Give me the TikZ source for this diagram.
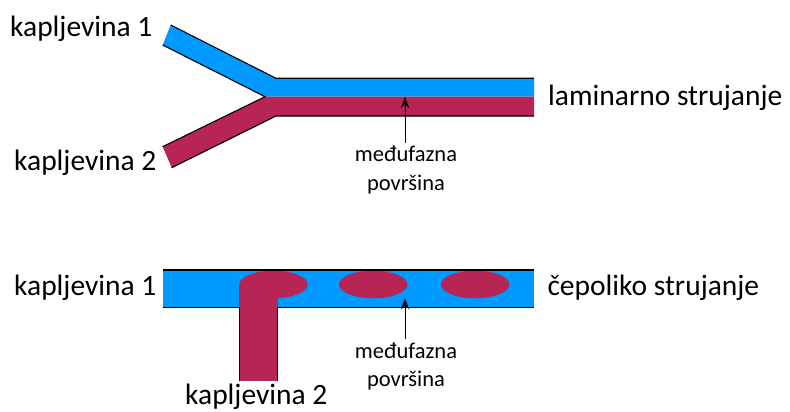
\documentclass[tikz,border=0pt]{standalone}
\usepackage{fontspec}
\setmainfont{Carlito}
\usetikzlibrary{arrows.meta}
\definecolor{fluidA}{HTML}{0099FF}
\definecolor{fluidB}{HTML}{B72555}
\begin{document}
\begin{tikzpicture}[x=1pt,y=-1pt,
  wall/.style={black,line width=1.1pt,line join=miter},
  biglabel/.style={inner sep=0pt,anchor=base west,font=\fontsize{29.5}{34}\selectfont},
  smalllabel/.style={inner sep=0pt,anchor=base,font=\fontsize{22.5}{27}\selectfont},
  pointer/.style={black,line width=1pt,-{Stealth[length=11pt,width=8pt]}}]
\useasboundingbox (0,0) rectangle (790,412);
% ---------- laminar flow ----------
\fill[fluidA] (170.7,25) -- (276,78.3) -- (534,78.3) -- (534,96.7) -- (265,96.7) -- (162.7,45) -- cycle;
\fill[fluidB] (265,96.7) -- (534,96.7) -- (534,116) -- (276,116) -- (171.7,167.7) -- (162.7,146.7) -- cycle;
\draw[wall] (170.7,25) -- (276,78.3) -- (534,78.3);
\draw[wall] (162.7,45) -- (265,96.7) -- (162.7,146.7);
\draw[wall] (534,116) -- (276,116) -- (171.7,167.7);
\coordinate (i1) at (405,96.7);
\node[biglabel] (k1a) at (10,36.7) {kapljevina 1};
\node[biglabel] (k2a) at (14,170.5) {kapljevina 2};
\node[biglabel] (lam) at (548,105) {laminarno strujanje};
\node[smalllabel] (mf1) at (406,161.7) {međufazna};
\node[smalllabel] (pv1) at (406,190) {površina};
\draw[pointer] ([yshift=3pt]mf1.north -| i1) -- (i1);
% ---------- slug flow ----------
\fill[fluidA] (163.3,270) rectangle (534,307.3);
\fill[fluidB] (239.3,284.5) rectangle (277.7,380.7);
\fill[fluidB] (273.5,284.5) ellipse [x radius=34.2,y radius=13.8];
\fill[fluidB] (373.2,284.5) ellipse [x radius=34.2,y radius=13.8];
\fill[fluidB] (475.2,284.5) ellipse [x radius=34.2,y radius=13.8];
\draw[wall] (163.3,270) -- (534,270);
\draw[wall] (163.3,307.3) -- (239.3,307.3) -- (239.3,380.7);
\draw[wall] (534,307.3) -- (277.7,307.3) -- (277.7,380.7);
\coordinate (i2) at (405,298.3);
\node[biglabel] (k1b) at (14,295) {kapljevina 1};
\node[biglabel] (k2b) at (185,404) {kapljevina 2};
\node[biglabel] (cep) at (547.3,295) {čepoliko strujanje};
\node[smalllabel] (mf2) at (406,358.3) {međufazna};
\node[smalllabel] (pv2) at (406,386.7) {površina};
\draw[pointer] ([yshift=3pt]mf2.north -| i2) -- (i2);
\end{tikzpicture}
\end{document}
